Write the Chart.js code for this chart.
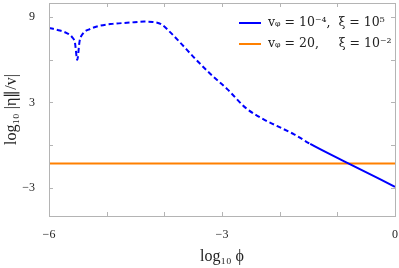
<!DOCTYPE html>
<html><head><meta charset="utf-8">
<script src="https://cdn.jsdelivr.net/npm/chart.js@4/dist/chart.umd.min.js"></script>
<style>html,body{margin:0;padding:0;background:#fff;}#wrap{width:399px;height:268px;}</style>
</head><body><div id="wrap"><canvas id="c" width="399" height="268"></canvas></div>
<script>
const logPhi = [-6.0,-5.85,-5.7,-5.6,-5.55,-5.51,-5.47,-5.41,-5.3,-5.12,-4.9,-4.6,-4.35,-4.2,-4.05,-3.9,-3.7,-3.47,-3.2,-2.9,-2.6,-2.3,-2.05,-1.75,-1.47,-0.81,0.0];
const blueValues = [8.25,8.1,7.9,7.6,7.2,6.0,7.3,7.85,8.15,8.4,8.53,8.62,8.69,8.67,8.5,7.95,7.1,6.1,5.0,3.9,2.65,1.85,1.35,0.75,0.08,-1.29,-2.94];
const dashedUntil = -1.47;
const orangeX = [-6, 0];
const orangeValues = [-1.3, -1.3];
const xTicks = [-6,-5,-4,-3,-2,-1,0];
const xLabelled = [-6,-3,0];
const yTicks = [-3,0,3,6,9];
const yLabelled = [-3,3,9];
const labels = ['v\u1D69 = 10\u207B\u2074,  \u03BE = 10\u2075', 'v\u1D69 = 20,     \u03BE = 10\u207B\u00B2'];
const fmt = v => (v < 0 ? '\u2212' + Math.abs(v) : String(v));

const frame = {
  id:'frame',
  afterDraw(chart){
    const {ctx, chartArea:a, scales:{x,y}} = chart;
    ctx.save();
    ctx.strokeStyle = '#b4b4b4'; ctx.lineWidth = 1;
    ctx.strokeRect(Math.round(a.left)+0.5, Math.round(a.top)+0.5, Math.round(a.right-a.left), Math.round(a.bottom-a.top));
    ctx.beginPath();
    xTicks.forEach(v=>{const p=Math.round(x.getPixelForValue(v))+0.5;
      ctx.moveTo(p,a.bottom); ctx.lineTo(p,a.bottom-4);
      ctx.moveTo(p,a.top); ctx.lineTo(p,a.top+4);});
    yTicks.forEach(v=>{const p=Math.round(y.getPixelForValue(v))+0.5;
      ctx.moveTo(a.left,p); ctx.lineTo(a.left+4,p);
      ctx.moveTo(a.right,p); ctx.lineTo(a.right-4,p);});
    ctx.stroke();
    // legend (top-right inside plot)
    const ds = chart.data.datasets;
    ctx.font = '12.5px "DejaVu Serif"';
    ctx.textBaseline = 'middle'; ctx.textAlign = 'left'; ctx.fillStyle = '#222';
    ds.forEach((d,i)=>{
      const yy = a.top + 20 + i*21;
      ctx.strokeStyle = d.borderColor; ctx.lineWidth = 2; ctx.setLineDash([]);
      ctx.beginPath(); ctx.moveTo(a.right-156, yy); ctx.lineTo(a.right-134, yy); ctx.stroke();
      ctx.fillText(d.label, a.right-127, yy);
    });
    ctx.restore();
  }
};

new Chart(document.getElementById('c'), {
  type:'line',
  data:{datasets:[
    {label:labels[0], data:logPhi.map((v,i)=>({x:v,y:blueValues[i]})), borderColor:'#0000ff', backgroundColor:'#0000ff', borderWidth:2, pointRadius:0, cubicInterpolationMode:'monotone',
     segment:{borderDash: c => (c.p0.parsed.x < dashedUntil - 1e-6 ? [5,3] : undefined)}},
    {label:labels[1], data:orangeX.map((v,i)=>({x:v,y:orangeValues[i]})), borderColor:'rgb(255,128,0)', backgroundColor:'rgb(255,128,0)', borderWidth:2, pointRadius:0}
  ]},
  options:{
    responsive:false, animation:false,
    layout:{padding:{top:3,right:4,left:0,bottom:0}},
    plugins:{ legend:{display:false}, tooltip:{enabled:false} },
    scales:{
      x:{type:'linear', min:-6, max:0,
        afterBuildTicks: s => { s.ticks = xTicks.map(v=>({value:v})); },
        afterFit: s => { s.height = 52; s.paddingRight = 0; s.paddingLeft = 0; },
        grid:{display:false}, border:{display:false},
        ticks:{autoSkip:false, maxRotation:0, padding:4, color:'#222', font:{family:'Liberation Serif', size:12},
          callback: v => xLabelled.includes(v) ? fmt(v) : ''},
        title:{display:true, text:'log\u2081\u2080 \u03D5', color:'#222', font:{family:'Liberation Serif', size:16}, padding:{top:6,bottom:2}}},
      y:{type:'linear', min:-5, max:10,
        afterBuildTicks: s => { s.ticks = yTicks.map(v=>({value:v})); },
        afterFit: s => { s.width = 49; s.paddingTop = 0; s.paddingBottom = 0; },
        grid:{display:false}, border:{display:false},
        ticks:{autoSkip:false, padding:6, color:'#222', font:{family:'Liberation Serif', size:12},
          callback: v => yLabelled.includes(v) ? fmt(v) : ''},
        title:{display:true, text:'log\u2081\u2080 |\u03B7\u2225/v|', color:'#222', font:{family:'Liberation Serif', size:16}, padding:{top:2,bottom:0}}}
    }
  },
  plugins:[frame]
});
</script></body></html>
